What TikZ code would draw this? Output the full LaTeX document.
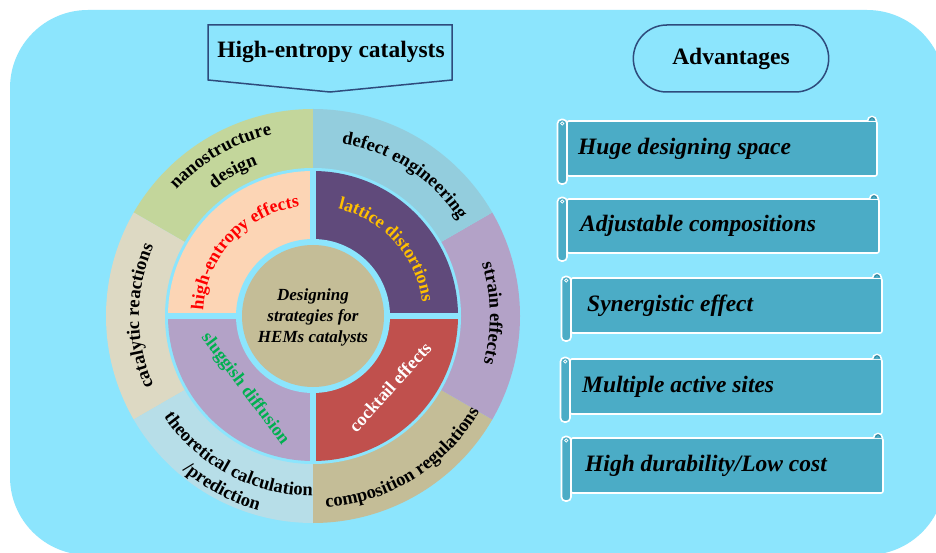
\documentclass[tikz,border=0pt]{standalone}
\usepackage{fontspec}
\setmainfont{Liberation Serif}
\usetikzlibrary{decorations.text,shapes.misc}
\definecolor{bgc}{HTML}{8CE5FD}
\definecolor{cNano}{HTML}{C3D69B}
\definecolor{cDefect}{HTML}{93CDDD}
\definecolor{cStrain}{HTML}{B3A2C7}
\definecolor{cComp}{HTML}{C4BD97}
\definecolor{cTheo}{HTML}{B7DEE8}
\definecolor{cCat}{HTML}{DDD9C3}
\definecolor{cHigh}{HTML}{FCD5B5}
\definecolor{cLat}{HTML}{604A7B}
\definecolor{cCock}{HTML}{C0504D}
\definecolor{cSlug}{HTML}{B3A2C7}
\definecolor{cCenter}{HTML}{C4BD97}
\definecolor{cBan}{HTML}{4BACC6}
\definecolor{cBanDark}{HTML}{2E7F96}
\definecolor{cEdge}{HTML}{2E4B7C}
\definecolor{cGold}{HTML}{FFC000}
\definecolor{cGreen}{HTML}{00B050}
\newcommand\otext{\bfseries\fontsize{18.5}{18.5}\selectfont}
\newcommand\itxt{\bfseries\fontsize{18}{18}\selectfont}
\newcommand\advbanner[7]{%
  \node[bannerbox, minimum width={#4-#2}, minimum height={#3-#5}, anchor=north west] (#1) at (#2,#3) {};
  \draw[rollpart, rounded corners=4pt] (#2-9.5,#3+1.5) rectangle (#2,#5-8);
  \draw[white, line width=0.8pt] (#2-4.75,#3-2.5) circle[radius=1.6];
  \draw[rollpart] (#4-9.5,#3) arc[start angle=180, end angle=0, radius=4.5];
  \draw[cBanDark, line width=0.9pt] (#4-7.3,#3+1) arc[start angle=180, end angle=0, radius=2.3];
  \node[bantext, anchor=west] (#1t) at (#6,{(#3+#5)/2}) {#7};
}
\begin{document}
\begin{tikzpicture}[x=1pt,y=1pt,
  bannerbox/.style={draw=white, line width=1.6pt, fill=cBan, rounded corners=2pt, inner sep=0pt, outer sep=0pt},
  rollpart/.style={draw=white, line width=1.6pt, fill=cBan},
  bantext/.style={inner sep=0pt, font=\bfseries\itshape\fontsize{23.5}{23.5}\selectfont},
  headtext/.style={inner sep=0pt, font=\bfseries\fontsize{23.5}{23.5}\selectfont},
  frame/.style={draw=cEdge, line width=1.5pt},
  itext/.style={inner sep=0pt, font=\itxt}]
\useasboundingbox (0,0) rectangle (936,552);
\fill[white] (0,0) rectangle (936,552);
\begin{scope}
  \clip (0,0) rectangle (936,552);
  \fill[bgc, rounded corners=78pt] (10,-3) rectangle (945,542);
\end{scope}
% ---- circle
\coordinate (C) at (313,236);
\foreach \a/\col in {90/cNano,150/cCat,210/cTheo,270/cComp,330/cStrain,30/cDefect}{
  \fill[\col] (C) -- ([shift={(\a:207)}]C) arc[start angle=\a, end angle=\a+60, radius=207] -- cycle;
}
\fill[bgc] (C) circle[radius=148];
\foreach \a/\col in {0/cLat,90/cHigh,180/cSlug,270/cCock}{
  \fill[\col] (C) -- ([shift={(\a:145)}]C) arc[start angle=\a, end angle=\a+90, radius=145] -- cycle;
}
\draw[bgc, line width=6pt] ([xshift=-147pt]C) -- ([xshift=147pt]C);
\draw[bgc, line width=6pt] ([yshift=-147pt]C) -- ([yshift=147pt]C);
\fill[bgc] (C) circle[radius=77];
\fill[cCenter] (C) circle[radius=71];
\node[align=center, inner sep=0pt, font=\bfseries\itshape\fontsize{17}{21}\selectfont] (ctr) at ([yshift=-1pt]C) {Designing\\strategies for\\HEMs catalysts};
% outer ring labels
\path[decorate, decoration={text along path, text align=center, text={|\otext|defect engineering}}]
  ([shift={(85:175)}]C) arc[start angle=85, end angle=29, radius=175];
\path[decorate, decoration={text along path, text align=center, text={|\otext|nanostructure}}]
  ([shift={(147:186)}]C) arc[start angle=147, end angle=93, radius=186];
\path[decorate, decoration={text along path, text align=center, text={|\otext|design}}]
  ([shift={(140:161)}]C) arc[start angle=140, end angle=98, radius=161];
\path[decorate, decoration={text along path, text align=center, text={|\otext|strain effects}}]
  ([shift={(28:177)}]C) arc[start angle=28, end angle=-26, radius=177];
\path[decorate, decoration={text along path, text align=center, text={|\otext|catalytic reactions}}]
  ([shift={(208:174)}]C) arc[start angle=208, end angle=152, radius=174];
\path[decorate, decoration={text along path, text align=center, text={|\otext|composition regulations}}]
  ([shift={(-89:192)}]C) arc[start angle=-89, end angle=-27, radius=192];
\path[decorate, decoration={text along path, text align=center, text={|\otext|theoretical calculation}}]
  ([shift={(211:180)}]C) arc[start angle=211, end angle=273, radius=180];
\path[decorate, decoration={text along path, text align=center, text={|\otext|/prediction}}]
  ([shift={(222:202)}]C) arc[start angle=222, end angle=262, radius=202];
% inner ring labels
\path[decorate, decoration={text along path, text align=center, text color=red, text={|\itxt|high-entropy effects}}]
  ([shift={(179:110)}]C) arc[start angle=179, end angle=95, radius=110];
\path[decorate, decoration={text along path, text align=center, text color=cGold, text={|\itxt|lattice distortions}}]
  ([shift={(81:110)}]C) arc[start angle=81, end angle=3, radius=110];
\node[itext, rotate=48, text=white] (cock) at (390,165) {cocktail effects};
\node[itext, rotate=-53, text=cGreen] (slug) at (245,163) {sluggish diffusion};
% header
\draw[frame] (208,527) -- (452,527) -- (452,472) -- (330,460) -- (208,472) -- cycle;
\node[headtext] (hdr) at (331,500) {High-entropy catalysts};
\node[frame, rounded rectangle, minimum width=202pt, minimum height=67pt, font=\bfseries\fontsize{23.5}{23.5}\selectfont] (adv) at (731,493.5) {Advantages};
% banners
\advbanner{b1}{567}{431}{877}{376}{578}{Huge designing space}
\advbanner{b2}{567}{353}{879}{299}{580}{Adjustable compositions}
\advbanner{b3}{571}{274}{882}{219}{587}{Synergistic effect}
\advbanner{b4}{570}{193}{882}{138}{582}{Multiple active sites}
\advbanner{b5}{571}{114}{883}{59}{585}{High durability/Low cost}
\end{tikzpicture}
\end{document}
